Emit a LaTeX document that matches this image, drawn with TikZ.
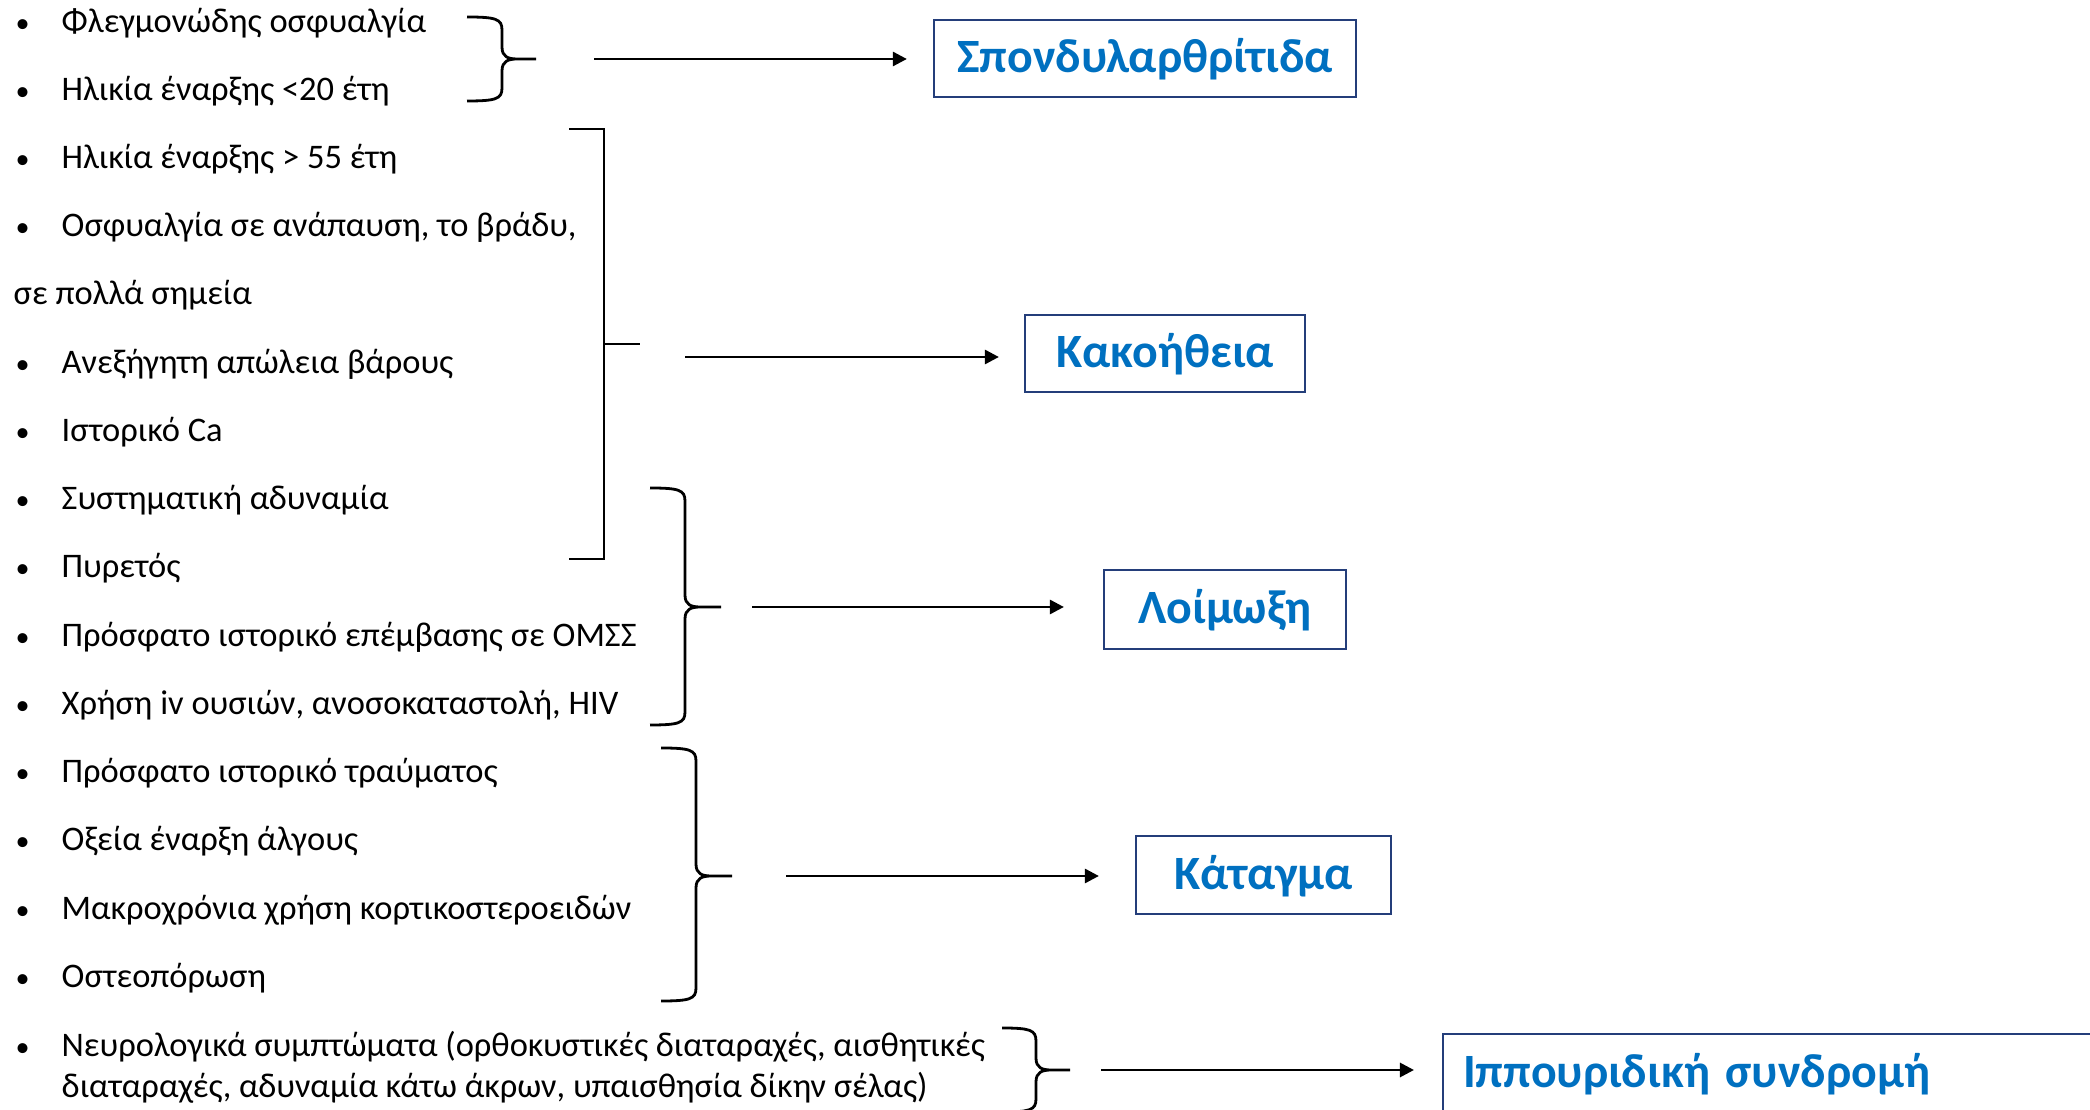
\documentclass[tikz,border=0pt]{standalone}
\usepackage{fontspec}
\setmainfont{Carlito}
\usetikzlibrary{arrows.meta}
\definecolor{boxblue}{RGB}{36,62,122}
\definecolor{txtblue}{RGB}{0,112,192}
\newcommand{\bul}{\makebox[0.48cm][l]{\hspace{0.02cm}{\fontsize{8}{8}\selectfont •}}}
% right curly brace: arm x, spine x, tip x, top y, tip y, bottom y
\newcommand{\curlyb}[6]{%
  \draw[braceline] (#1,#4) .. controls ({#2-6},#4) and (#2,{#4+2}) .. (#2,{#4+13})
    -- (#2,{#5-12}) .. controls (#2,{#5-2}) and ({#2+6},#5) .. ({#2+16},#5) -- (#3,#5)
    ({#2+16},#5) .. controls ({#2+6},#5) and (#2,{#5+2}) .. (#2,{#5+12})
    -- (#2,{#6-13}) .. controls (#2,{#6-2}) and ({#2-6},#6) .. (#1,#6);}
\tikzset{
  item/.style={anchor=base west, inner sep=0, font=\fontsize{9.8}{11.4}\selectfont},
  diag/.style={draw=boxblue, line width=0.02cm, text=txtblue, inner sep=0,
    font=\bfseries\fontsize{13.6}{16}\selectfont, minimum height=0.77cm,
    text height=0.33cm, text depth=0.05cm},
  braceline/.style={line width=0.028cm},
  arr/.style={line width=0.028cm, -{Triangle[length=0.14cm,width=0.14cm]}}
}
\begin{document}
\begin{tikzpicture}[x=0.01cm,y=-0.01cm]
  \clip (0,0) rectangle (2090,1110);
  % symptoms
  \node[item] (i1) at (13,33) {\bul Φλεγμονώδης οσφυαλγία};
  \node[item] (i2) at (13,101) {\bul Ηλικία έναρξης <20 έτη};
  \node[item] (i3) at (13,169) {\bul Ηλικία έναρξης > 55 έτη};
  \node[item] (i4) at (13,237) {\bul Οσφυαλγία σε ανάπαυση, το βράδυ,};
  \node[item] (i5) at (13,305) {σε πολλά σημεία};
  \node[item] (i6) at (13,374) {\bul Ανεξήγητη απώλεια βάρους};
  \node[item] (i7) at (13,442) {\bul Ιστορικό Ca};
  \node[item] (i8) at (13,510) {\bul Συστηματική αδυναμία};
  \node[item] (i9) at (13,578) {\bul Πυρετός};
  \node[item] (i10) at (13,647) {\bul Πρόσφατο ιστορικό επέμβασης σε ΟΜΣΣ};
  \node[item] (i11) at (13,715) {\bul Χρήση iv ουσιών, ανοσοκαταστολή, HIV};
  \node[item] (i12) at (13,783) {\bul Πρόσφατο ιστορικό τραύματος};
  \node[item] (i13) at (13,851) {\bul Οξεία έναρξη άλγους};
  \node[item] (i14) at (13,920) {\bul Μακροχρόνια χρήση κορτικοστεροειδών};
  \node[item] (i15) at (13,988) {\bul Οστεοπόρωση};
  \node[item, align=left] (i16) at (13,1097)
    {\bul Νευρολογικά συμπτώματα (ορθοκυστικές διαταραχές, αισθητικές\\
     \hspace*{0.48cm}διαταραχές, αδυναμία κάτω άκρων, υπαισθησία δίκην σέλας)};

  % diagnoses
  \node[diag, minimum width=4.22cm] (spa) at (1145,58.5) {Σπονδυλαρθρίτιδα};
  \node[diag, minimum width=2.80cm] (mal) at (1165,353.5) {Κακοήθεια};
  \node[diag, minimum width=2.42cm, minimum height=0.79cm] (inf) at (1225,609.5) {Λοίμωξη};
  \node[diag, minimum width=2.55cm] (frc) at (1263.5,875) {Κάταγμα};
  \node[diag, anchor=west, text width=6.6cm, align=left, inner xsep=0.2cm,
    minimum height=0.78cm] (cau) at (1442,1073) {Ιππουριδική συνδρομή};

  % braces
  \curlyb{467}{502}{536}{17}{59}{101}
  \draw[braceline] (569,129) -- (604,129) -- (604,559) -- (569,559);
  \draw[braceline] (604,344) -- (640,344);
  \curlyb{650}{685}{721}{488}{607}{725}
  \curlyb{661}{696}{732}{748}{876}{1001}
  \curlyb{1002}{1036}{1070}{1028}{1070}{1112}

  % arrows
  \coordinate (s1) at (594,59);
  \coordinate (s2) at (685,357);
  \coordinate (s3) at (752,607);
  \coordinate (s4) at (786,876);
  \coordinate (s5) at (1101,1070);
  \draw[arr, shorten >=0.26cm] (s1) -- (s1 -| spa.west);
  \draw[arr, shorten >=0.25cm] (s2) -- (s2 -| mal.west);
  \draw[arr, shorten >=0.39cm] (s3) -- (s3 -| inf.west);
  \draw[arr, shorten >=0.36cm] (s4) -- (s4 -| frc.west);
  \draw[arr, shorten >=0.28cm] (s5) -- (s5 -| cau.west);
\end{tikzpicture}
\end{document}
